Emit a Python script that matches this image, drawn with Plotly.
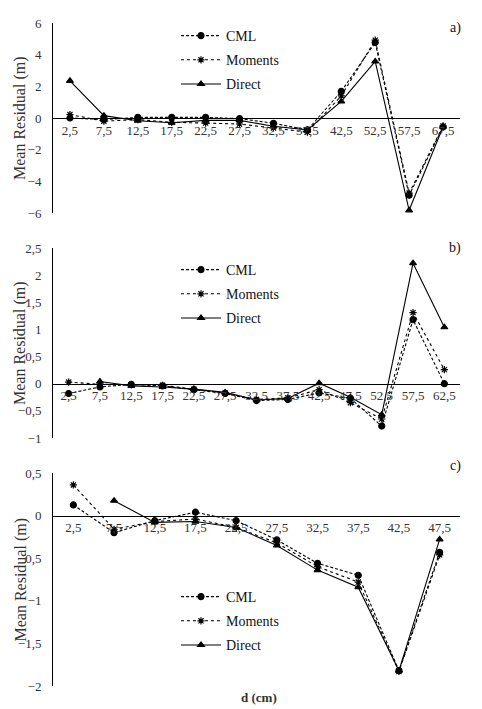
import plotly.graph_objects as go

# ---------------- data ----------------
series_names = ["CML", "Moments", "Direct"]

a_cats = ["2,5", "7,5", "12,5", "17,5", "22,5", "27,5", "32,5", "37,5", "42,5", "52,5", "57,5", "67,5"]
a_cml = [0.0, -0.1, 0.04, 0.04, 0.04, -0.04, -0.33, -0.75, 1.68, 4.77, -4.88, -0.57]
a_mom = [0.22, -0.2, -0.1, -0.27, -0.32, -0.38, -0.63, -0.9, 1.4, 4.92, -4.75, -0.5]
a_dir = [2.35, 0.15, -0.17, -0.3, -0.15, -0.15, -0.52, -0.75, 1.05, 3.57, -5.83, -0.55]

b_cats = ["2,5", "7,5", "12,5", "17,5", "22,5", "27,5", "32,5", "37,5", "42,5", "47,5", "52,5", "57,5", "62,5"]
b_cml = [-0.18, -0.06, -0.01, -0.04, -0.11, -0.18, -0.31, -0.29, -0.17, -0.27, -0.78, 1.18, 0.0]
b_mom = [0.03, -0.01, -0.02, -0.03, -0.1, -0.17, -0.29, -0.26, -0.11, -0.35, -0.65, 1.31, 0.26]
b_dir = [None, 0.04, -0.04, -0.06, -0.1, -0.16, -0.3, -0.27, 0.01, -0.25, -0.57, 2.22, 1.04]

c_cats = ["2,5", "7,5", "12,5", "17,5", "22,5", "27,5", "32,5", "37,5", "42,5", "47,5"]
c_cml = [0.125, -0.2, -0.06, 0.04, -0.06, -0.285, -0.56, -0.7, -1.82, -0.43]
c_mom = [0.36, -0.16, -0.07, -0.04, -0.14, -0.32, -0.6, -0.78, -1.83, -0.46]
c_dir = [None, 0.175, -0.08, -0.07, -0.14, -0.35, -0.64, -0.84, -1.82, -0.28]

y_title = "Mean Residual (m)"
x_title = "d (cm)"
panel_labels = ["a)", "b)", "c)"]

# ---------------- layout helpers ----------------
PAGE_OFF = 8                 # default page margin around the plot div
W, H = 482 - PAGE_OFF, 709 - PAGE_OFF
FONT = "Liberation Serif, Times New Roman, serif"
TXT = "#333333"


def fx(p):
    return (p - PAGE_OFF) / W


def fy(p):
    return 1 - (p - PAGE_OFF) / H


panels = [
    dict(cats=a_cats, vals=[a_cml, a_mom, a_dir], yr=[-6, 6], dt=2, top=23, bot=213, leg=20, lab=28),
    dict(cats=b_cats, vals=[b_cml, b_mom, b_dir], yr=[-1, 2.5], dt=0.5, top=248, bot=438, leg=254, lab=248),
    dict(cats=c_cats, vals=[c_cml, c_mom, c_dir], yr=[-2, 0.5], dt=0.5, top=473, bot=686, leg=581, lab=466),
]

styles = [
    dict(dash="3px,2px", symbol="circle", size=6),
    dict(dash="dot", symbol="asterisk-open", size=6),
    dict(dash="solid", symbol="triangle-up", size=6),
]

X0, X1 = 53, 460

fig = go.Figure()
layout = dict(
    template="none",
    width=W, height=H,
    margin=dict(l=0, r=0, t=0, b=0, autoexpand=False),
    paper_bgcolor="white", plot_bgcolor="white",
    font=dict(family=FONT, size=13, color=TXT),
    separators=", ",
    showlegend=True,
    annotations=[],
)

for i, p in enumerate(panels):
    k = "" if i == 0 else str(i + 1)
    leg = "legend" if i == 0 else "legend" + str(i + 1)
    for j, name in enumerate(series_names):
        s = styles[j]
        fig.add_trace(go.Scatter(
            x=p["cats"], y=p["vals"][j], name=name,
            mode="lines+markers",
            line=dict(color="black", width=1.1, dash=s["dash"]),
            marker=dict(symbol=s["symbol"], size=s["size"], color="black",
                        line=dict(color="black", width=1.2)),
            xaxis="x" + k, yaxis="y" + k, legend=leg,
            legendgroup=f"{i}-{j}",
        ))
    d0, d1 = fy(p["bot"]), fy(p["top"])
    ymin, ymax = p["yr"]
    zero_pos = d0 + (0 - ymin) / (ymax - ymin) * (d1 - d0)
    n = len(p["cats"])
    layout["xaxis" + k] = dict(
        domain=[fx(X0), fx(X1)], type="category", range=[-0.5, n - 0.5],
        anchor="free", position=zero_pos, automargin=False,
        showline=True, linecolor="black", linewidth=1,
        ticks="", showgrid=False, zeroline=False,
        tickfont=dict(family=FONT, size=13, color=TXT),
        fixedrange=True,
    )
    layout["yaxis" + k] = dict(
        domain=[d0, d1], range=[ymin, ymax], dtick=p["dt"], tick0=0,
        anchor="x" + k, automargin=False,
        showline=True, linecolor="black", linewidth=1,
        ticks="", showgrid=False, zeroline=False, ticklabelstandoff=8,
        tickfont=dict(family=FONT, size=13, color=TXT),
        fixedrange=True,
    )
    layout[leg] = dict(
        x=fx(176), y=fy(p["leg"]), xanchor="left", yanchor="top",
        bgcolor="rgba(0,0,0,0)", borderwidth=0,
        font=dict(family=FONT, size=14, color="#111111"),
        traceorder="grouped", tracegroupgap=3, itemwidth=40,
    )
    layout["annotations"].append(dict(
        text=y_title, textangle=-90, x=fx(9), y=(d0 + d1) / 2,
        xref="paper", yref="paper", showarrow=False,
        font=dict(family=FONT, size=16, color=TXT),
        xanchor="left", yanchor="middle",
    ))
    layout["annotations"].append(dict(
        text=panel_labels[i], x=fx(463), y=fy(p["lab"]),
        xref="paper", yref="paper", showarrow=False,
        font=dict(family=FONT, size=14, color="#111111"),
        xanchor="right", yanchor="middle",
    ))

layout["annotations"].append(dict(
    text="<b>" + x_title + "</b>", x=fx(259), y=fy(697),
    xref="paper", yref="paper", showarrow=False,
    font=dict(family=FONT, size=13, color=TXT),
    xanchor="center", yanchor="middle",
))

fig.update_layout(**layout)
fig.write_html("out.html")
